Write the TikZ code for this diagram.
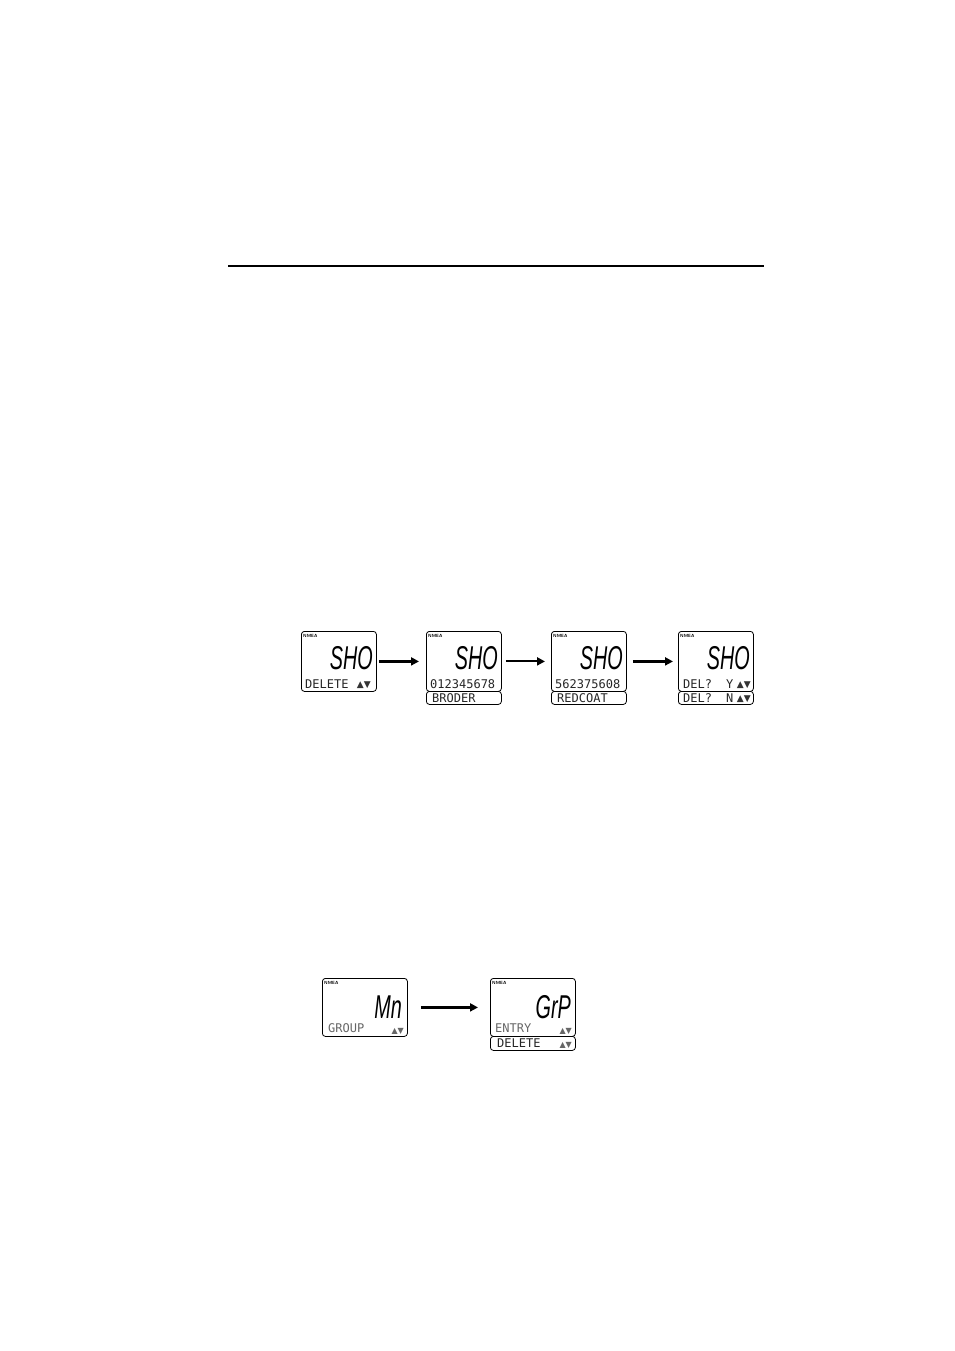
\documentclass[tikz,border=0pt]{standalone}
\usepackage{fontspec}
\newfontfamily\lcdfont{DejaVu Sans Mono}
\newfontfamily\segfont{Liberation Sans}
\newfontfamily\symfont{DejaVu Sans}
\usetikzlibrary{arrows.meta}
\newcommand{\segtxt}[1]{\scalebox{0.6}[1]{\fontsize{33}{33}\segfont\itshape #1}}
\newcommand{\updn}{{\fontsize{9}{9}\symfont ▲▼}}
\newcommand{\updnsm}{{\fontsize{8}{8}\symfont ▲▼}}
\begin{document}
\begin{tikzpicture}[x=1pt,y=-1pt,
  lcdbox/.style={draw, rounded corners=3pt, line width=0.8pt, anchor=north west, inner sep=0pt},
  mainbox/.style={lcdbox, minimum width=75pt, minimum height=60pt},
  subbox/.style={lcdbox, minimum width=75pt, minimum height=13pt},
  bigbox/.style={lcdbox, minimum width=85pt, minimum height=58pt},
  bigsub/.style={lcdbox, minimum width=85pt, minimum height=14pt},
  seg/.style={anchor=base east, inner sep=0pt, text depth=0pt},
  lcd/.style={anchor=base west, inner sep=0pt, font=\fontsize{12}{12}\lcdfont, text=black!85},
  lcdg/.style={lcd, text=black!60},
  sym/.style={anchor=base east, inner sep=0pt, text=black!80},
  nmea/.style={anchor=north west, inner sep=0pt, font=\fontsize{4.5}{4.5}\sffamily\bfseries},
  arr/.style={-{Triangle[length=8pt,width=8pt]}, line width=2.8pt},
  arrthin/.style={-{Triangle[length=8pt,width=8pt]}, line width=2pt}
]
\useasboundingbox (0,0) rectangle (954,1351);

% top rule
\coordinate (ruleL) at (228,266);
\coordinate (ruleR) at (764,266);
\draw[line width=1.3pt] (ruleL) -- (ruleR);

% ---------- upper row ----------
% display 1
\node[mainbox] (d1) at (301,631) {};
\node[nmea] (d1n) at (303,634) {NMEA};
\node[seg] (d1s) at (373,669) {\segtxt{SHO}};
\node[lcd] (d1a) at (305,688) {DELETE};
\node[sym] (d1b) at (371,687) {\updn};

% display 2
\node[mainbox] (d2) at (426,631) {};
\node[subbox] (d2sub) at (426,691) {};
\node[nmea] (d2n) at (428,634) {NMEA};
\node[seg] (d2s) at (498,669) {\segtxt{SHO}};
\node[lcd] (d2a) at (430,688) {012345678};
\node[lcd] (d2c) at (432,702) {BRODER};

% display 3
\node[mainbox] (d3) at (551,631) {};
\node[subbox] (d3sub) at (551,691) {};
\node[nmea] (d3n) at (553,634) {NMEA};
\node[seg] (d3s) at (623,669) {\segtxt{SHO}};
\node[lcd] (d3a) at (555,688) {562375608};
\node[lcd] (d3c) at (557,702) {REDCOAT};

% display 4
\node[mainbox] (d4) at (678,631) {};
\node[subbox] (d4sub) at (678,691) {};
\node[nmea] (d4n) at (680,634) {NMEA};
\node[seg] (d4s) at (750,669) {\segtxt{SHO}};
\node[lcd] (d4a) at (683,688) {DEL?};
\node[lcd] (d4y) at (726,688) {Y};
\node[sym] (d4b) at (751,687) {\updn};
\node[lcd] (d4c) at (683,702) {DEL?};
\node[lcd] (d4nn) at (726,702) {N};
\node[sym] (d4d) at (751,701) {\updn};

\draw[arr] (d1) -- (d2) [shorten <=2pt, shorten >=7pt];
\draw[arrthin] (d2) -- (d3) [shorten <=4pt, shorten >=6pt];
\draw[arr] (d3) -- (d4) [shorten <=6pt, shorten >=5pt];

% ---------- lower row ----------
% display 5
\node[bigbox] (d5) at (322,978) {};
\node[nmea] (d5n) at (324,981) {NMEA};
\node[seg] (d5s) at (402,1018) {\segtxt{Mn}};
\node[lcdg] (d5a) at (328,1032) {GROUP};
\node[sym, text=black!60] (d5b) at (404,1033) {\updnsm};

% display 6
\node[bigbox] (d6) at (490,978) {};
\node[bigsub] (d6sub) at (490,1036) {};
\node[nmea] (d6n) at (492,981) {NMEA};
\node[seg] (d6s) at (571,1018) {\segtxt{GrP}};
\node[lcdg] (d6a) at (495,1032) {ENTRY};
\node[sym, text=black!60] (d6b) at (572,1033) {\updnsm};
\node[lcd] (d6c) at (497,1047) {DELETE};
\node[sym, text=black!60] (d6d) at (572,1047) {\updnsm};

\draw[arr] (d5) -- (d6) [shorten <=13pt, shorten >=12pt];
\end{tikzpicture}
\end{document}
